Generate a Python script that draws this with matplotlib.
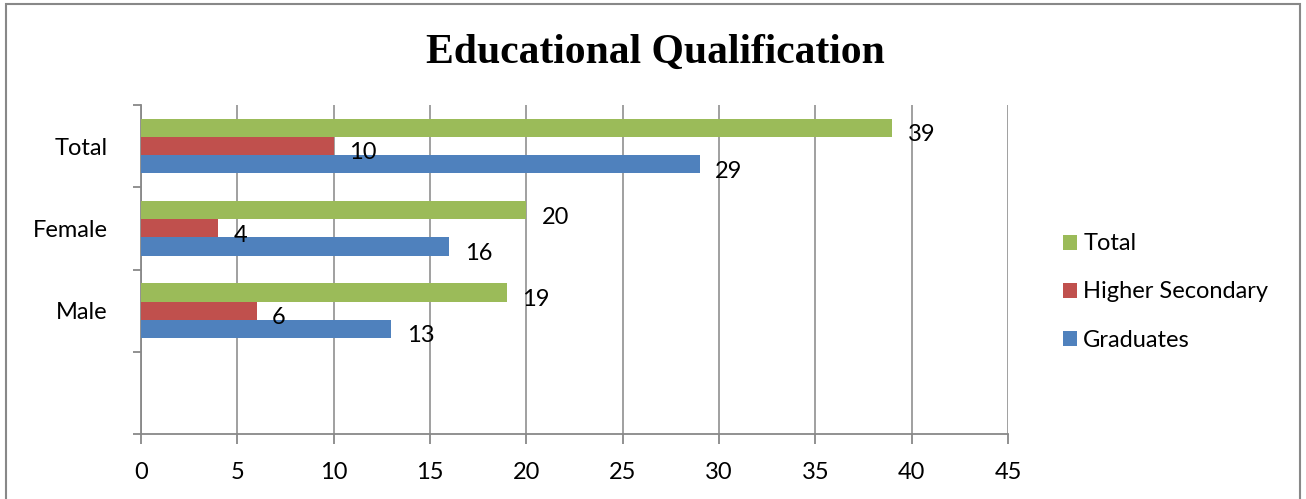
import matplotlib
matplotlib.use("Agg")
import matplotlib.pyplot as plt
from matplotlib.patches import Rectangle
import numpy as np

categories = ["", "Male", "Female", "Total"]
graduates = [None, 13, 16, 29]
higher_secondary = [None, 6, 4, 10]
total = [None, 19, 20, 39]
series_names = ["Total", "Higher Secondary", "Graduates"]
series_colors = ["#9BBB59", "#C0504D", "#4F81BD"]
x_ticks = list(range(0, 50, 5))

W, H = 1306, 499
fig = plt.figure(figsize=(W / 100, H / 100), dpi=100)
fig.patch.set_facecolor("white")
FONT = "Lato"
FS = 17

ax = fig.add_axes([141 / W, 1 - 434 / H, (1008 - 141) / W, (434 - 105) / H])

bh = 0.22
ypos = np.arange(len(categories))
series = [total, higher_secondary, graduates]
offsets = [bh, 0, -bh]
for vals, name, col, off in zip(series, series_names, series_colors, offsets):
    ys = [y + off for y, v in zip(ypos, vals) if v is not None]
    vs = [v for v in vals if v is not None]
    ax.barh(ys, vs, height=bh, color=col, label=name, zorder=3)
    for y, v in zip(ys, vs):
        ax.annotate(str(v), (v, y), xytext=(11, -3.5), textcoords="offset points",
                    ha="left", va="center_baseline", fontsize=FS, family=FONT, zorder=4)

ax.set_xlim(0, 45)
ax.set_ylim(-0.5, len(categories) - 0.5)
ax.set_xticks(x_ticks)
ax.set_xticklabels([str(t) for t in x_ticks], fontsize=FS, family=FONT)
ax.set_yticks(ypos)
ax.set_yticklabels(categories, fontsize=FS, family=FONT)
for lbl in ax.get_yticklabels():
    lbl.set_va("center_baseline")
ax.set_yticks(np.arange(-0.5, len(categories)), minor=True)
ax.tick_params(axis="y", which="major", length=0, pad=24)
ax.tick_params(axis="y", which="minor", length=6, width=1.3, color="#888888")
ax.tick_params(axis="x", which="major", length=7, width=1.3, color="#888888", pad=13)
ax.grid(axis="x", color="#999999", linewidth=1.3, zorder=0)
for s in ["top", "right"]:
    ax.spines[s].set_visible(False)
for s in ["left", "bottom"]:
    ax.spines[s].set_color("#888888")
    ax.spines[s].set_linewidth(1.3)

handles, labels = ax.get_legend_handles_labels()
fig.legend(handles, labels, loc="center left", bbox_to_anchor=(1042 / W, 1 - 292 / H),
           frameon=False, prop={"family": FONT, "size": FS}, handlelength=0.6,
           handleheight=0.6, handletextpad=0.25, labelspacing=1.15)

fig.text(655 / W, 1 - 53 / H, "Educational Qualification", ha="center", va="center",
         fontsize=30, fontweight="bold", family="Liberation Serif")

fig.patches.append(Rectangle((6 / W, -0.1), (1300 - 6) / W, 1.1 - 4 / H,
                             transform=fig.transFigure, fill=False,
                             edgecolor="#888888", linewidth=1.5, clip_on=False))

fig.savefig("out.png", dpi=100)
